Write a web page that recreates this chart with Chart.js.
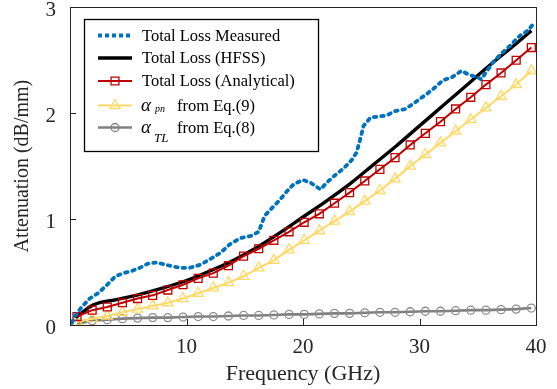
<!DOCTYPE html>
<html>
<head>
<meta charset="utf-8">
<script src="https://cdn.jsdelivr.net/npm/chart.js@4.4.1/dist/chart.umd.min.js"></script>
<style>
  html, body { margin: 0; padding: 0; background: #fff; }
  #wrap { width: 557px; height: 389px; }
</style>
</head>
<body>
<div id="wrap"><canvas id="myChart" width="557" height="389"></canvas></div>
<script>
// 축 눈금
const xTicks = [10, 20, 30, 40];
const yTicks = [0, 1, 2, 3];

// 측정값 (Total Loss Measured)
const measFreq = [0.15, 0.4, 1.0, 1.7, 2.4, 3.1, 3.9, 4.6, 5.3, 6.0, 6.7, 7.4, 8.2, 8.9, 9.6, 10.3, 11.2, 12.0, 12.9, 13.7, 14.6, 15.5, 16.2, 16.7, 17.3, 18.0, 18.6, 19.2, 20.0, 20.7, 21.5, 22.0, 22.7, 23.5, 24.2, 24.6, 24.9, 25.2, 25.8, 26.6, 27.2, 27.9, 28.8, 29.6, 30.6, 31.3, 32.0, 32.8, 33.6, 34.3, 35.0, 35.3, 35.8, 36.3, 37.0, 37.8, 38.6, 39.3, 39.9];
const measLoss = [0.02, 0.08, 0.17, 0.25, 0.30, 0.37, 0.46, 0.49, 0.51, 0.54, 0.58, 0.59, 0.57, 0.55, 0.54, 0.54, 0.57, 0.62, 0.68, 0.76, 0.82, 0.84, 0.88, 1.03, 1.10, 1.18, 1.26, 1.33, 1.37, 1.34, 1.28, 1.34, 1.41, 1.48, 1.56, 1.63, 1.75, 1.88, 1.96, 1.97, 1.98, 2.02, 2.04, 2.10, 2.18, 2.24, 2.31, 2.34, 2.40, 2.36, 2.34, 2.32, 2.40, 2.48, 2.56, 2.64, 2.73, 2.78, 2.86];

// HFSS
const hfssFreq = [0.5, 2, 4, 6, 8, 10, 12, 14, 16, 18, 20, 22, 24, 26, 28, 30, 32, 34, 36, 38, 39.6];
const hfssLoss = [0.07, 0.19, 0.24, 0.29, 0.35, 0.42, 0.51, 0.61, 0.73, 0.87, 1.02, 1.17, 1.33, 1.51, 1.69, 1.88, 2.07, 2.26, 2.45, 2.63, 2.78];

// 해석값 / 식(9) / 식(8) 공통 주파수
const calcFreq = [0.6, 1.9, 3.2, 4.5, 5.8, 7.1, 8.4, 9.7, 11.0, 12.3, 13.6, 14.9, 16.2, 17.5, 18.8, 20.1, 21.4, 22.7, 24.0, 25.3, 26.6, 27.9, 29.2, 30.5, 31.8, 33.1, 34.4, 35.7, 37.0, 38.3, 39.6];
const analyticLoss = [0.08, 0.14, 0.17, 0.21, 0.25, 0.28, 0.33, 0.38, 0.44, 0.49, 0.56, 0.65, 0.72, 0.80, 0.88, 0.97, 1.05, 1.15, 1.25, 1.36, 1.47, 1.58, 1.70, 1.81, 1.92, 2.04, 2.15, 2.27, 2.38, 2.50, 2.62];
const alphaPn = [0.03, 0.06, 0.085, 0.12, 0.15, 0.18, 0.21, 0.25, 0.30, 0.35, 0.40, 0.46, 0.54, 0.61, 0.71, 0.80, 0.89, 0.98, 1.07, 1.17, 1.27, 1.38, 1.50, 1.61, 1.72, 1.83, 1.94, 2.05, 2.16, 2.27, 2.40];
const alphaTl = [0.01, 0.04, 0.05, 0.06, 0.065, 0.07, 0.07, 0.075, 0.08, 0.08, 0.085, 0.09, 0.09, 0.095, 0.10, 0.10, 0.105, 0.11, 0.11, 0.115, 0.12, 0.12, 0.125, 0.13, 0.13, 0.135, 0.14, 0.14, 0.145, 0.15, 0.16];

const legendLabels = ['Total Loss Measured', 'Total Loss (HFSS)', 'Total Loss (Analytical)', 'from Eq.(9)', 'from Eq.(8)'];

const serif = '"Liberation Serif", "Times New Roman", serif';

function pts(xs, ys) {
  return xs.map((x, i) => ({ x: x, y: ys[i] }));
}

// 프레임 + 안쪽 눈금
const framePlugin = {
  id: 'frame',
  afterDraw(chart) {
    const c = chart.ctx, a = chart.chartArea;
    const sx = chart.scales.x, sy = chart.scales.y;
    c.save();
    c.strokeStyle = '#262626';
    c.lineWidth = 1;
    c.strokeRect(Math.round(a.left) + 0.5, Math.round(a.top) + 0.5, Math.round(a.right - a.left), Math.round(a.bottom - a.top));
    c.beginPath();
    xTicks.forEach(v => {
      const px = Math.round(sx.getPixelForValue(v)) + 0.5;
      c.moveTo(px, a.bottom); c.lineTo(px, a.bottom - 6);
    });
    yTicks.forEach(v => {
      const py = Math.round(sy.getPixelForValue(v)) + 0.5;
      c.moveTo(a.left, py); c.lineTo(a.left + 6, py);
    });
    c.stroke();
    c.restore();
  }
};

// 범례 (그래프 안쪽 박스)
function marker(c, style, x, y, r) {
  c.beginPath();
  if (style === 'rect') {
    const s = r * Math.SQRT1_2;
    c.rect(x - s, y - s, 2 * s, 2 * s);
  } else if (style === 'triangle') {
    c.moveTo(x, y - r);
    c.lineTo(x + r * Math.sin(Math.PI / 3), y + r * 0.5);
    c.lineTo(x - r * Math.sin(Math.PI / 3), y + r * 0.5);
    c.closePath();
  } else if (style === 'circle') {
    c.arc(x, y, r, 0, Math.PI * 2);
  }
  c.stroke();
}

const legendPlugin = {
  id: 'boxLegend',
  afterDraw(chart) {
    const c = chart.ctx;
    const ds = chart.data.datasets;
    c.save();
    c.fillStyle = '#fff';
    c.fillRect(84, 19, 234, 132);
    c.strokeStyle = '#000';
    c.lineWidth = 1.3;
    c.strokeRect(84.5, 19.5, 234, 132);

    const baseY = [40.5, 63, 86, 110.5, 132.5];
    ds.forEach((d, i) => {
      const ly = baseY[i] - 5;
      c.strokeStyle = d.borderColor;
      c.lineWidth = d.borderWidth;
      c.setLineDash(i === 0 ? [4, 3] : []);
      c.lineCap = 'butt';
      c.beginPath();
      c.moveTo(98, ly); c.lineTo(132, ly);
      c.stroke();
      c.setLineDash([]);
      if (d.pointRadius > 0) {
        c.lineWidth = d.pointBorderWidth;
        marker(c, d.pointStyle, 115, ly, d.pointRadius);
      }
      c.fillStyle = '#000';
      c.textBaseline = 'alphabetic';
      c.textAlign = 'left';
      if (i < 3) {
        c.font = '16.5px ' + serif;
        c.fillText(legendLabels[i], 142, baseY[i]);
      } else {
        c.font = 'italic 19px ' + serif;
        c.fillText('\u03B1', 141, baseY[i]);
        if (i === 3) {
          c.font = 'italic 10px ' + serif;
          c.fillText('pn', 155, baseY[i] + 1.5);
        } else {
          c.font = 'italic 13px ' + serif;
          c.fillText('TL', 154, baseY[i] + 9);
        }
        c.font = '16.5px ' + serif;
        c.fillText(legendLabels[i], 177, baseY[i]);
      }
    });
    c.restore();
  }
};

const ctx = document.getElementById('myChart').getContext('2d');
const newChart = new Chart(ctx, {
  type: 'line',
  data: {
    datasets: [
      {
        label: legendLabels[0], data: pts(measFreq, measLoss),
        borderColor: '#0072BD', borderWidth: 3.8, borderDash: [2.5, 5], borderCapStyle: 'round',
        pointRadius: 0, tension: 0, order: 0
      },
      {
        label: legendLabels[1], data: pts(hfssFreq, hfssLoss),
        borderColor: '#000000', borderWidth: 3.4, pointRadius: 0,
        cubicInterpolationMode: 'monotone', order: 2
      },
      {
        label: legendLabels[2], data: pts(calcFreq, analyticLoss),
        borderColor: '#C00000', borderWidth: 2, pointStyle: 'rect', pointRadius: 5.6,
        pointBorderWidth: 1.3, pointBorderColor: '#C00000', pointBackgroundColor: 'rgba(0,0,0,0)',
        tension: 0, order: 1
      },
      {
        label: legendLabels[3], data: pts(calcFreq, alphaPn),
        borderColor: '#FFD966', borderWidth: 2, pointStyle: 'triangle', pointRadius: 6,
        pointBorderWidth: 1.3, pointBorderColor: '#FFD966', pointBackgroundColor: 'rgba(0,0,0,0)',
        tension: 0, order: 3
      },
      {
        label: legendLabels[4], data: pts(calcFreq, alphaTl),
        borderColor: '#808080', borderWidth: 2.6, pointStyle: 'circle', pointRadius: 4,
        pointBorderWidth: 1.3, pointBorderColor: '#8C8C8C', pointBackgroundColor: 'rgba(0,0,0,0)',
        tension: 0, order: 4
      }
    ]
  },
  options: {
    responsive: false,
    animation: false,
    devicePixelRatio: 1,
    layout: { padding: { top: 7, right: 21, left: 0, bottom: 0 } },
    plugins: { legend: { display: false }, tooltip: { enabled: false } },
    scales: {
      x: {
        type: 'linear', min: 0, max: 40,
        afterBuildTicks: s => { s.ticks = xTicks.map(v => ({ value: v })); },
        afterFit: s => { s.height = 64; s.paddingLeft = 0; s.paddingRight = 0; },
        grid: { display: false }, border: { display: false },
        ticks: { color: '#262626', font: { family: serif, size: 21 }, padding: 2, maxRotation: 0 },
        title: { display: true, text: 'Frequency (GHz)', color: '#262626', font: { family: serif, size: 22 }, padding: { top: 0, bottom: 2 } }
      },
      y: {
        min: 0, max: 3,
        afterBuildTicks: s => { s.ticks = yTicks.map(v => ({ value: v })); },
        afterFit: s => { s.width = 70; s.paddingTop = 0; s.paddingBottom = 0; },
        grid: { display: false }, border: { display: false },
        ticks: { color: '#262626', font: { family: serif, size: 21 }, padding: 6, labelOffset: 3 },
        title: { display: true, text: 'Attenuation (dB/mm)', color: '#262626', font: { family: serif, size: 20 }, padding: { top: 11, bottom: 0 } }
      }
    }
  },
  plugins: [framePlugin, legendPlugin]
});
</script>
</body>
</html>
